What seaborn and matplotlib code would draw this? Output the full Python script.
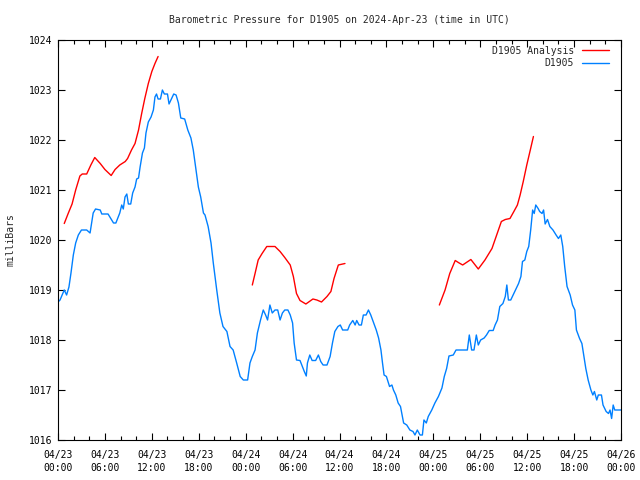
import numpy as np
import pandas as pd
import seaborn as sns
import matplotlib
matplotlib.use("Agg")
import matplotlib.pyplot as plt
import matplotlib.dates as mdates

# hours since 2024-04-23 00:00 UTC, pressure in mbar
obs_hours = [0.0, 0.26, 0.8, 1.1, 1.4, 1.66, 1.96, 2.26, 2.6, 3.0, 3.67, 4.1, 4.5, 4.8, 5.4, 5.6,
             6.4, 7.1, 7.4, 7.9, 8.15, 8.35, 8.57, 8.8, 9.0, 9.3, 9.55, 9.85, 10.06, 10.3, 10.5,
             10.8, 11.05, 11.25, 11.55, 11.9, 12.2, 12.4, 12.6, 12.8, 13.1, 13.35, 13.6, 14.0,
             14.2, 14.5, 14.8, 15.1, 15.4, 15.7, 16.2, 16.6, 17.0, 17.3, 17.6, 17.95, 18.25,
             18.6, 18.8, 19.2, 19.57, 19.86, 20.3, 20.7, 21.1, 21.6, 22.0, 22.4, 22.85, 23.3,
             23.7, 24.25, 24.55, 24.85, 25.2, 25.5, 25.9, 26.25, 26.55, 26.8, 27.1, 27.4, 27.75,
             28.1, 28.4, 28.7, 29.0, 29.4, 29.7, 30.0, 30.2, 30.5, 30.95, 31.25, 31.5, 31.75,
             31.9, 32.2, 32.5, 32.95, 33.3, 33.6, 33.9, 34.4, 34.8, 35.1, 35.4, 35.8, 36.1,
             36.4, 37.05, 37.3, 37.7, 38.0, 38.2, 38.5, 38.8, 39.05, 39.4, 39.7, 40.0, 40.3,
             40.7, 41.0, 41.3, 41.5, 41.7, 42.0, 42.4, 42.7, 42.9, 43.2, 43.5, 43.8, 44.2,
             44.6, 45.0, 45.4, 45.65, 45.95, 46.3, 46.6, 46.8, 47.1, 47.35, 47.8, 48.2, 48.65,
             49.1, 49.4, 49.7, 50.0, 50.55, 50.9, 52.35, 52.6, 52.9, 53.2, 53.5, 53.75, 54.05,
             54.5, 54.8, 55.15, 55.65, 55.9, 56.2, 56.5, 56.9, 57.2, 57.4, 57.6, 57.9, 58.2,
             58.6, 58.9, 59.2, 59.4, 59.7, 59.95, 60.2, 60.45, 60.7, 60.9, 61.1, 61.4, 61.6,
             61.9, 62.1, 62.3, 62.6, 62.9, 63.3, 63.7, 64.0, 64.3, 64.55, 64.8, 65.1, 65.5,
             65.8, 66.1, 66.3, 66.7, 67.0, 67.2, 67.5, 67.8, 68.15, 68.4, 68.6, 68.9, 69.1,
             69.5, 69.7, 70.1, 70.4, 70.6, 70.8, 71.0, 71.2, 72.0]
obs_mbar = [1018.76, 1018.8, 1019.0, 1018.9, 1019.06, 1019.34, 1019.7, 1019.94, 1020.1, 1020.2,
            1020.2, 1020.14, 1020.54, 1020.62, 1020.6, 1020.52, 1020.52, 1020.34, 1020.34,
            1020.54, 1020.7, 1020.62, 1020.86, 1020.92, 1020.72, 1020.72, 1020.94, 1021.06,
            1021.22, 1021.24, 1021.46, 1021.74, 1021.84, 1022.14, 1022.36, 1022.46, 1022.6,
            1022.86, 1022.92, 1022.82, 1022.82, 1023.0, 1022.92, 1022.92, 1022.72, 1022.82,
            1022.92, 1022.9, 1022.74, 1022.44, 1022.42, 1022.2, 1022.04, 1021.8, 1021.46,
            1021.06, 1020.86, 1020.54, 1020.5, 1020.27, 1019.94, 1019.54, 1019.0, 1018.54,
            1018.27, 1018.17, 1017.87, 1017.8, 1017.54, 1017.27, 1017.2, 1017.2, 1017.54,
            1017.67, 1017.8, 1018.14, 1018.4, 1018.6, 1018.5, 1018.4, 1018.7, 1018.54, 1018.6,
            1018.6, 1018.4, 1018.54, 1018.6, 1018.6, 1018.5, 1018.34, 1017.94, 1017.6, 1017.59,
            1017.47, 1017.37, 1017.28, 1017.54, 1017.7, 1017.59, 1017.59, 1017.7, 1017.57,
            1017.5, 1017.5, 1017.67, 1017.94, 1018.17, 1018.27, 1018.3, 1018.2, 1018.2, 1018.3,
            1018.39, 1018.3, 1018.39, 1018.3, 1018.3, 1018.5, 1018.5, 1018.6, 1018.5, 1018.37,
            1018.2, 1018.04, 1017.8, 1017.54, 1017.3, 1017.27, 1017.07, 1017.1, 1017.0, 1016.9,
            1016.74, 1016.67, 1016.34, 1016.3, 1016.2, 1016.17, 1016.1, 1016.2, 1016.1, 1016.1,
            1016.4, 1016.34, 1016.47, 1016.6, 1016.74, 1016.87, 1017.04, 1017.27, 1017.43,
            1017.68, 1017.7, 1017.8, 1017.8, 1018.1, 1017.8, 1017.8, 1018.1, 1017.9, 1018.0,
            1018.04, 1018.1, 1018.19, 1018.19, 1018.3, 1018.4, 1018.67, 1018.73, 1018.87,
            1019.1, 1018.8, 1018.8, 1018.9, 1019.03, 1019.13, 1019.27, 1019.57, 1019.6,
            1019.77, 1019.87, 1020.2, 1020.6, 1020.53, 1020.7, 1020.63, 1020.57, 1020.53,
            1020.6, 1020.32, 1020.41, 1020.27, 1020.2, 1020.1, 1020.03, 1020.1, 1019.87,
            1019.47, 1019.07, 1018.9, 1018.7, 1018.6, 1018.2, 1018.03, 1017.93, 1017.73,
            1017.43, 1017.2, 1017.0, 1016.9, 1016.97, 1016.8, 1016.9, 1016.9, 1016.7, 1016.57,
            1016.53, 1016.6, 1016.43, 1016.7, 1016.6, 1016.6]

# analysis runs (three separate segments)
ana1_hours = [0.8, 1.3, 1.8, 2.26, 2.8, 3.1, 3.67, 4.2, 4.7, 5.4, 6.0, 6.8, 7.3, 7.9, 8.6, 8.9,
              9.4, 9.85, 10.3, 10.7, 11.1, 11.55, 12.0, 12.4, 12.8]
ana1_mbar = [1020.33, 1020.53, 1020.72, 1021.0, 1021.28, 1021.32, 1021.32, 1021.5, 1021.65,
             1021.53, 1021.41, 1021.29, 1021.41, 1021.5, 1021.57, 1021.63, 1021.8, 1021.93,
             1022.2, 1022.53, 1022.83, 1023.13, 1023.37, 1023.53, 1023.67]
ana2_hours = [24.85, 25.2, 25.6, 26.1, 26.7, 27.75, 28.4, 29.0, 29.7, 30.1, 30.5, 30.95, 31.7,
              32.6, 33.1, 33.7, 34.4, 34.9, 35.3, 35.85, 36.7]
ana2_mbar = [1019.1, 1019.33, 1019.6, 1019.73, 1019.87, 1019.87, 1019.77, 1019.65, 1019.5,
             1019.27, 1018.93, 1018.79, 1018.72, 1018.82, 1018.8, 1018.76, 1018.87, 1018.97,
             1019.23, 1019.5, 1019.53]
ana3_hours = [48.77, 49.5, 50.1, 50.8, 51.2, 51.75, 52.8, 53.75, 54.6, 55.5, 56.1, 56.7, 57.2,
              57.8, 58.3, 58.75, 59.1, 59.5, 59.95, 60.4, 60.8]
ana3_mbar = [1018.7, 1019.0, 1019.33, 1019.59, 1019.55, 1019.5, 1019.61, 1019.42, 1019.6,
             1019.83, 1020.1, 1020.37, 1020.41, 1020.43, 1020.57, 1020.7, 1020.9, 1021.17,
             1021.5, 1021.8, 1022.07]

start = pd.Timestamp("2024-04-23 00:00")

obs = pd.DataFrame({"time": start + pd.to_timedelta(obs_hours, unit="h"),
                    "mbar": obs_mbar})
ana = pd.concat([
    pd.DataFrame({"time": start + pd.to_timedelta(h, unit="h"), "mbar": p, "seg": i})
    for i, (h, p) in enumerate([(ana1_hours, ana1_mbar), (ana2_hours, ana2_mbar),
                                (ana3_hours, ana3_mbar)])
], ignore_index=True)

sns.set_style("ticks")
plt.rcParams["font.family"] = ["DejaVu Sans Mono"]
plt.rcParams["font.size"] = 7

fig = plt.figure(figsize=(6.4, 4.8), dpi=100)
ax = fig.add_axes([58 / 640, 40 / 480, 563 / 640, 400 / 480])

sns.lineplot(data=ana, x="time", y="mbar", units="seg", estimator=None,
             color="#ff0000", lw=1, ax=ax)
sns.lineplot(data=obs, x="time", y="mbar", color="#0080ff", lw=1, ax=ax)

ax.set_xlim(start, start + pd.Timedelta(hours=72))
ax.set_ylim(1016, 1024)
ax.set_yticks(np.arange(1016, 1025, 1))
ax.xaxis.set_major_locator(mdates.HourLocator(byhour=[0, 6, 12, 18]))
ax.xaxis.set_minor_locator(mdates.HourLocator(byhour=range(0, 24, 2)))
ax.xaxis.set_major_formatter(mdates.DateFormatter("%m/%d\n%H:%M"))
ax.tick_params(axis="both", which="both", direction="in", top=True, right=True,
               color="black", labelsize=7, labelcolor="black")
ax.tick_params(axis="both", which="major", length=5, width=0.8)
ax.tick_params(axis="both", which="minor", length=3, width=0.8)
ax.tick_params(axis="x", which="major", pad=7)
ax.tick_params(axis="y", which="major", pad=4)
for lab in ax.get_xticklabels():
    lab.set_linespacing(1.35)
for s in ax.spines.values():
    s.set_color("black")
    s.set_linewidth(0.8)

ax.set_xlabel("")
ax.set_ylabel("milliBars", fontsize=7)
ax.yaxis.set_label_coords(-0.076, 0.5)
ax.set_title("Barometric Pressure for D1905 on 2024-Apr-23 (time in UTC)", fontsize=7, pad=12)

h_ana = plt.Line2D([], [], color="#ff0000", lw=1)
h_obs = plt.Line2D([], [], color="#0080ff", lw=1)
ax.legend([h_ana, h_obs], ["D1905 Analysis", "D1905"], loc="upper right",
          bbox_to_anchor=(1 - 5 / 563, 1 + 1 / 400),
          frameon=False, markerfirst=False, fontsize=7, handlelength=2.8,
          handletextpad=0.8, labelspacing=0.25, borderaxespad=0.3)

fig.savefig("out.png", dpi=100)
